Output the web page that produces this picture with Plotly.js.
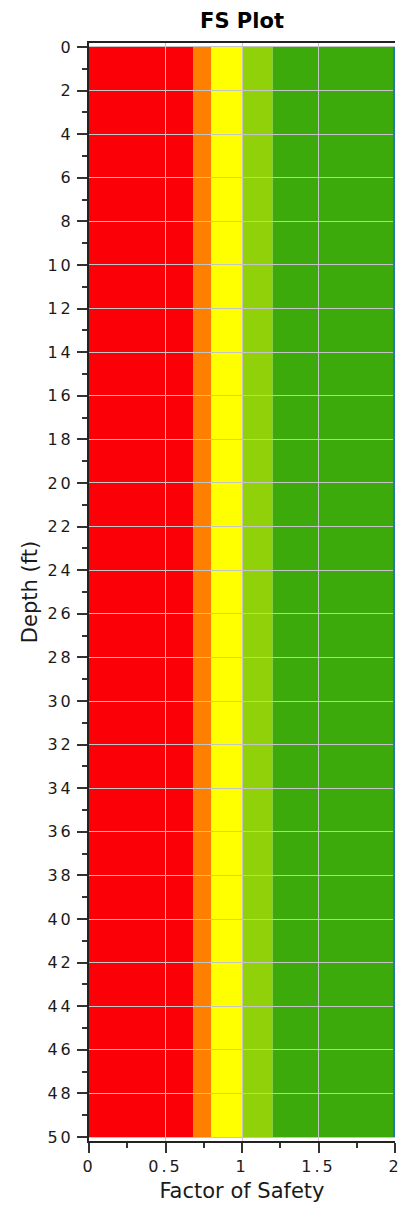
<!DOCTYPE html>
<html>
<head>
<meta charset="utf-8">
<script src="https://cdn.plot.ly/plotly-3.0.1.min.js"></script>
<style>
html,body{margin:0;padding:0;background:#fff;}
#chart{width:403px;height:1209px;}
#chart .xtick text, #chart .ytick text{letter-spacing:3px;}
</style>
</head>
<body>
<div id="chart"></div>
<script>
// Factor-of-safety zone boundaries and colors
const zoneStart = [0, 0.68, 0.8, 1.0, 1.2];
const zoneEnd   = [0.68, 0.8, 1.0, 1.2, 2.0];
const zoneColors = ['#fb0006', '#ff8000', '#ffff00', '#90d10a', '#3caa0a'];
const depthTop = 0;
const depthBottom = 50;

// FS profile (capped at 2)
const depth = [0, 10, 20, 30, 40, 50];
const fs    = [2, 2, 2, 2, 2, 2];

const yTicks = [0,2,4,6,8,10,12,14,16,18,20,22,24,26,28,30,32,34,36,38,40,42,44,46,48,50];
const xTicks = [0, 0.5, 1, 1.5, 2];
const xTickText = ['0', '0.5', '1', '1.5', '2'];

const shapes = zoneStart.map((s, i) => ({
  type: 'rect', xref: 'x', yref: 'y', layer: 'below',
  x0: s, x1: zoneEnd[i], y0: depthTop, y1: depthBottom,
  fillcolor: zoneColors[i], line: {width: 0}
}));

const font = 'DejaVu Sans, Verdana, sans-serif';
const data = [{
  type: 'scatter', mode: 'lines', x: fs, y: depth,
  line: {color: '#1f7ab0', width: 4}, hoverinfo: 'skip', showlegend: false
}];

const layout = {
  width: 403, height: 1209,
  margin: {l: 89, r: 8, t: 43, b: 68},
  paper_bgcolor: '#fff', plot_bgcolor: '#fff',
  title: {text: '<b>FS Plot</b>', font: {family: font, size: 21, color: '#000'}, x: 0.5, xanchor: 'center', xref: 'paper', y: 0.983, yanchor: 'middle'},
  showlegend: false,
  shapes: shapes,
  xaxis: {
    range: [0, 2], tickvals: xTicks, ticktext: xTickText,
    showgrid: true, gridcolor: '#c4c4c4', gridwidth: 1,
    zeroline: false, showline: true, linecolor: '#222', linewidth: 2, mirror: true,
    ticks: 'outside', ticklen: 10, tickwidth: 2, tickcolor: '#333',
    minor: {dtick: 0.25, ticks: 'outside', ticklen: 5, tickwidth: 2, tickcolor: '#333', showgrid: false},
    tickfont: {family: font, size: 16, color: '#1a1a1a'},
    title: {text: 'Factor of Safety', font: {family: font, size: 21, color: '#1a1a1a'}, standoff: 8},
    fixedrange: true
  },
  yaxis: {
    range: [50.18, -0.18], tickvals: yTicks,
    showgrid: true, gridcolor: '#c4c4c4', gridwidth: 1,
    zeroline: false, showline: true, linecolor: '#222', linewidth: 2,
    ticks: 'outside', ticklen: 10, tickwidth: 2, tickcolor: '#333',
    minor: {dtick: 1, ticks: 'outside', ticklen: 5, tickwidth: 2, tickcolor: '#333', showgrid: false},
    tickfont: {family: font, size: 16, color: '#1a1a1a'},
    title: {text: 'Depth (ft)', font: {family: font, size: 21, color: '#1a1a1a'}, standoff: 10},
    fixedrange: true
  }
};

Plotly.newPlot('chart', data, layout, {displayModeBar: false, staticPlot: true});
</script>
</body>
</html>
